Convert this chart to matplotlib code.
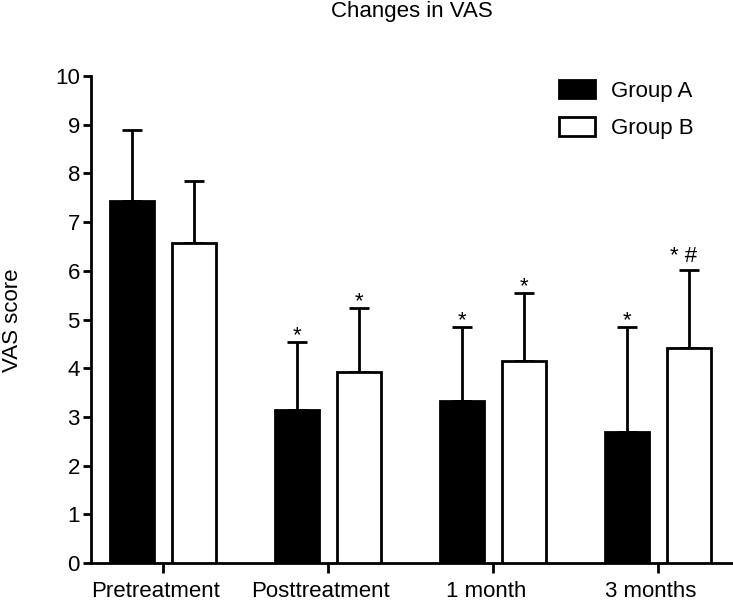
import numpy as np
import matplotlib
matplotlib.use('Agg')
import matplotlib.pyplot as plt
import matplotlib.transforms as mtransforms
from matplotlib.patches import Patch

plt.rcParams['font.family'] = ['Liberation Sans', 'DejaVu Sans']

stages = ['Pretreatment', 'Posttreatment', '1 month', '3 months']
group_a = [7.43, 3.14, 3.33, 2.69]
group_a_sd = [1.46, 1.40, 1.52, 2.16]
group_b = [6.57, 3.92, 4.15, 4.41]
group_b_sd = [1.27, 1.32, 1.39, 1.61]
marks_a = ['', '*', '*', '*']
marks_b = ['', '*', '*', '* #']

fig = plt.figure(figsize=(7.33, 6.02), dpi=100)
ax = fig.add_axes([91/733, 39/602, 1 - 91/733, (563 - 76)/602])

x = np.arange(len(stages))
w = 0.267
off = 0.188
lw = 2
fs = 16

ax.bar(x - off, group_a, w, color='black', edgecolor='black', linewidth=lw, zorder=3)
ax.bar(x + off, group_b, w, color='white', edgecolor='black', linewidth=lw, zorder=3)
ax.errorbar(x - off, group_a, yerr=[np.zeros(4), group_a_sd], fmt='none', ecolor='black',
            elinewidth=lw, capsize=7.5, capthick=lw, zorder=2)
ax.errorbar(x + off, group_b, yerr=[np.zeros(4), group_b_sd], fmt='none', ecolor='black',
            elinewidth=lw, capsize=7.5, capthick=lw, zorder=2)

for i in range(len(stages)):
    if marks_a[i]:
        ax.annotate(marks_a[i], (x[i] - off, group_a[i] + group_a_sd[i]), xytext=(0, -3),
                    textcoords='offset points', ha='center', va='bottom', fontsize=fs)
    if marks_b[i]:
        dx, dy = (-4, 2) if '#' in marks_b[i] else (0, -3)
        ax.annotate(marks_b[i], (x[i] + off, group_b[i] + group_b_sd[i]), xytext=(dx, dy),
                    textcoords='offset points', ha='center', va='bottom', fontsize=fs)

ax.set_xlim(-0.436, 3.455)
ax.set_ylim(0, 10)
ax.set_yticks(range(11))
ax.set_xticks(x)
ax.set_xticklabels(stages)
ax.spines['top'].set_visible(False)
ax.spines['right'].set_visible(False)
ax.spines['left'].set_linewidth(lw)
ax.spines['bottom'].set_linewidth(lw)
ax.tick_params(axis='y', length=6, width=lw, pad=2, labelsize=fs)
ax.tick_params(axis='x', length=7, width=lw, pad=6, labelsize=fs)

# labels in the reference sit a little left of their ticks
shift = mtransforms.ScaledTranslation(-5/72, 0, fig.dpi_scale_trans)
for lab in ax.get_xticklabels():
    lab.set_transform(lab.get_transform() + shift)

handles = [Patch(facecolor='black', edgecolor='black', linewidth=lw),
           Patch(facecolor='white', edgecolor='black', linewidth=lw)]
fig.legend(handles, ['Group A', 'Group B'], loc='upper left',
           bbox_to_anchor=(559/733, 1 - 80/602), frameon=False, fontsize=fs,
           handlelength=1.6, handleheight=0.9, handletextpad=0.75,
           labelspacing=0.7, borderpad=0, borderaxespad=0)

fig.text(412/733, 1 - 11/602, 'Changes in VAS', ha='center', va='center', fontsize=fs)
fig.text(13/733, 1 - 320/602, 'VAS score', ha='center', va='center', rotation=90, fontsize=fs)

fig.savefig('out.png', dpi=100)
